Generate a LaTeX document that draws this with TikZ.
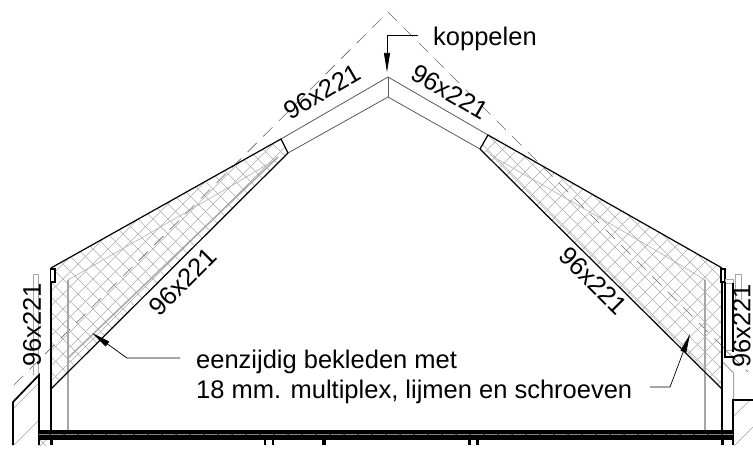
\documentclass[tikz,border=0pt]{standalone}
\usepackage{fontspec}
\setmainfont{Liberation Sans}
\usetikzlibrary{arrows.meta}
\tikzset{
  lbl/.style={inner sep=0pt,font=\fontsize{25.5}{29.5}\selectfont},
  mesh/.style={draw=black!32,line width=.6pt},
  ghostthin/.style={draw=black!28,line width=.7pt},
  ghostthick/.style={draw=black!35,line width=1.4pt},
  centre/.style={draw=black!60,line width=.6pt,dash pattern=on 13pt off 9pt},
  rafter/.style={draw=black!65,line width=.8pt},
  edge/.style={draw=black,line width=1.2pt},
  heavy/.style={draw=black,line width=1.7pt},
  paleline/.style={draw=black!35,line width=1pt},
  wallhatch/.style={draw=black!35,line width=.6pt},
  leader/.style={draw=black,line width=.7pt,-{Triangle[length=19pt,width=6pt]}},
}
\begin{document}
\begin{tikzpicture}[x=1pt,y=-1pt]
\useasboundingbox (0,0) rectangle (753,452);
% key points
\coordinate (apex) at (388,12);
\coordinate (dashL) at (14,385);
\coordinate (dashR) at (748,372);
\coordinate (ridgeT) at (388,77);
\coordinate (ridgeB) at (388,97);
\coordinate (lTop) at (281,139);
\coordinate (lBot) at (288,153);
\coordinate (lWallT) at (51,268);
\coordinate (lWallB) at (51,389);
\coordinate (rTop) at (488,135);
\coordinate (rBot) at (480,149);
\coordinate (rWallT) at (722,268);
\coordinate (rWallB) at (722,389);
% mesh
\begin{scope}
\clip (lTop) -- (lBot) -- (lWallB) -- (lWallT) -- cycle;
\foreach \c in {297,312,...,477} \draw[mesh] (0,\c) -- (\c,0);
\foreach \d in {-351,-336,...,159} \draw[mesh] (0,-\d) -- (500,500-\d);
\draw[ghostthin] (68,280) .. controls (120,250) and (200,205) .. (278,158);
\draw[ghostthick] (68,358) -- (278,157);
\end{scope}
\begin{scope}
\clip (rTop) -- (rBot) -- (rWallB) -- (rWallT) -- cycle;
\foreach \c in {607,622,...,1117} \draw[mesh] (0,\c) -- (\c,0);
\foreach \d in {203,218,...,458} \draw[mesh] (0,-\d) -- (800,800-\d);
\draw[ghostthin] (490,155) .. controls (560,195) and (640,240) .. (705,280);
\draw[ghostthin] (486,150) -- (705,369);
\end{scope}
% centre lines of the roof
\draw[centre] (dashL) -- (apex) -- (dashR);
% pale inner studs
\draw[ghostthick] (68,280) -- (68,430);
\draw[ghostthick] (705,280) -- (705,430);
% rafters
\draw[rafter] (lTop) -- (ridgeT) -- (rTop);
\draw[rafter] (lBot) -- (ridgeB) -- (rBot);
\draw[rafter] (ridgeT) -- (ridgeB);
% hatched block outlines
\draw[edge] (lBot) -- (lTop) -- (lWallT);
\draw[edge] (lBot) -- (lWallB);
\draw[edge] (rBot) -- (rTop) -- (rWallT);
\draw[edge] (rBot) -- (rWallB);
% wall posts
\draw[edge] (lWallT) -- (51,445);
\draw[edge] (rWallT) -- (722,445);
\draw[heavy,fill=white] (50.5,269) rectangle (55,282);
\draw[heavy,fill=white] (721,269) rectangle (725,282);
% pale boxes at the wall heads
\draw[paleline] (33,375) -- (33,274) -- (38,274) -- (38,375);
\draw[paleline] (735,300) -- (735,274) -- (741.5,274) -- (741.5,300);
\draw[paleline] (725,279) rectangle (733,283);
\draw[paleline] (725,350) -- (733,357);
\draw[paleline] (725,350) -- (733,350);
\draw[edge] (725,282) -- (725,357) -- (735,357);
\draw[edge] (733,283) -- (733,352);
% left wall
\begin{scope}
\clip (13,402) -- (39,375) -- (39,445) -- (13,445) -- cycle;
\foreach \c in {422,459} \draw[wallhatch] (0,\c) -- (\c,0);
\end{scope}
\draw[heavy] (13,445) -- (13,402) -- (39,375) -- (39,445);
\draw[wallhatch] (40,446) -- (46,440);
\draw[wallhatch] (40,440) -- (46,446);
% right wall
\draw[paleline] (723,362) -- (733.5,373) -- (733.5,400);
\begin{scope}
\clip (733,400) rectangle (753,445);
\foreach \c in {1150,1180} \draw[wallhatch] (0,\c) -- (\c,0);
\end{scope}
\draw[heavy] (753,400) -- (733,400) -- (733,445);
% floor
\fill[black] (39,430) rectangle (733,440);
\draw[draw=black!48,line width=1pt] (39,434) -- (733,434);
\foreach \x in {48,62,...,726} \draw[black,line width=.6pt] (\x,433) -- (\x+3,435);
\fill[black] (264,440) rectangle (266,445);
\fill[black] (272,440) rectangle (274,445);
\fill[black] (322,440) rectangle (326,445);
\fill[black] (468,440) rectangle (470.5,445);
\fill[black] (476,440) rectangle (478.5,445);
\fill[black] (49.5,440) rectangle (52.5,445);
\fill[black] (720.5,440) rectangle (723.5,445);
% size labels
\node[lbl,rotate=90] (sizeLeft) at (32,325) {96x221};
\node[lbl,rotate=45] (sizeLeftLow) at (183,282) {96x221};
\node[lbl,rotate=30] (sizeRidgeL) at (322,92) {96x221};
\node[lbl,rotate=-30] (sizeRidgeR) at (450,92) {96x221};
\node[lbl,rotate=-45] (sizeRightLow) at (593,281) {96x221};
\node[lbl,rotate=90] (sizeRight) at (741.5,326) {96x221};
% notes and leaders
\node[lbl,anchor=base west] (koppel) at (433,46) {koppelen};
\node[lbl,anchor=west,align=left] (note) at (196,377) {eenzijdig bekleden met\\18 mm. multiplex, lijmen en schroeven};
\coordinate (ridgeTip) at (387,72);
\coordinate (ridgeStart) at (418,35);
\draw[leader] (ridgeStart) -- (387,35) -- (ridgeTip);
\coordinate (leftTip) at (92,333);
\coordinate (leftStart) at (180,358);
\draw[leader] (leftStart) -- (127,358) -- (leftTip);
\coordinate (rightTip) at (690,334);
\coordinate (rightStart) at (650,387);
\draw[leader] (rightStart) -- (670,387) -- (rightTip);
\end{tikzpicture}
\end{document}
